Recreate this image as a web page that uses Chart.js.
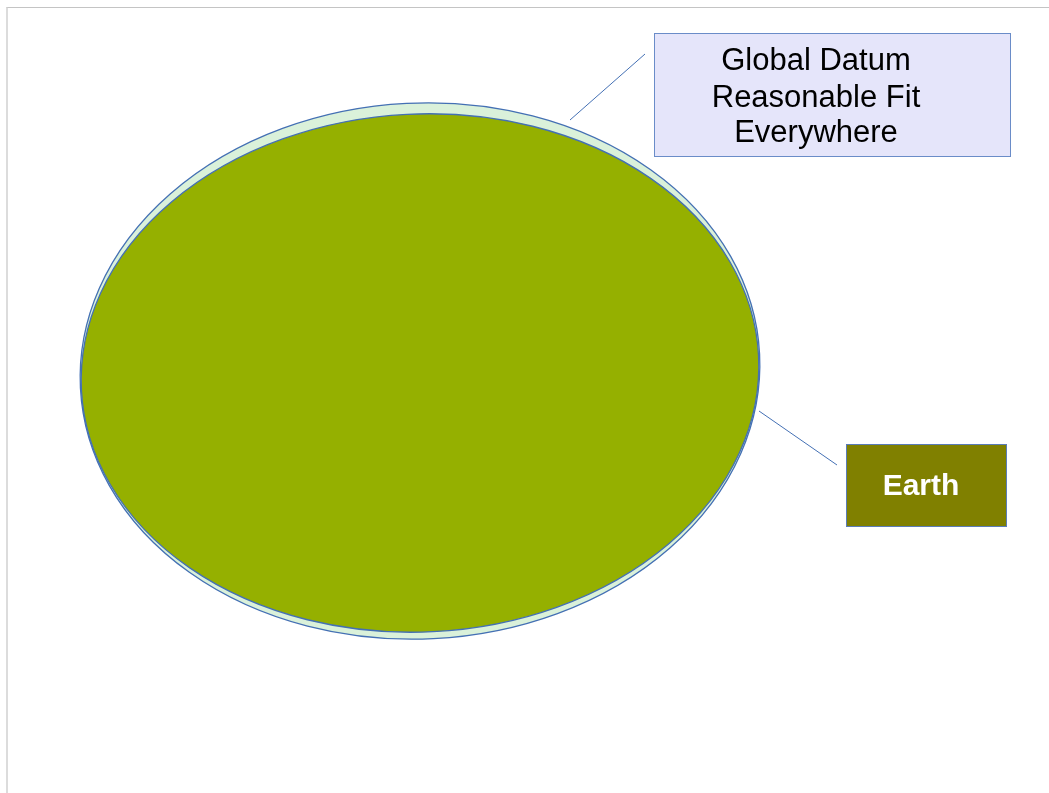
<!DOCTYPE html>
<html>
<head>
<meta charset="utf-8">
<title>Global Datum</title>
<script src="https://cdn.jsdelivr.net/npm/chart.js@4.4.1/dist/chart.umd.min.js"></script>
<style>
  html, body { margin: 0; padding: 0; background: #fff; }
  #wrap { position: relative; width: 1049px; height: 793px; overflow: hidden; }
  #page { position: absolute; left: 6px; top: 7px; right: -10px; bottom: -10px;
          border-top: 1px solid #c4c4c4; border-left: 2px solid #dcdcdc; pointer-events: none; }
  canvas { position: absolute; left: 0; top: 0; }
</style>
</head>
<body>
<div id="wrap">
  <canvas id="diagram" width="1049" height="793"></canvas>
  <div id="page"></div>
</div>
<script>
// ellipses: datum (outer) and earth (inner), centre + radii in axis units
const ellipseNames = ['Global Datum', 'Earth'];
const ellipseCx = [420, 420];
const ellipseCy = [371, 373];
const ellipseRx = [340, 339];
const ellipseRy = [268, 259];
const ellipseTilt = [-0.05, -0.05]; // radians, right end slightly raised
const ellipseFill = ['#daf1da', '#95b000'];

// callout boxes
const boxLabels = [['Global Datum', 'Reasonable Fit', 'Everywhere'], ['Earth']];
const boxX = [654, 846];
const boxY = [33, 444];
const boxW = [356, 160];
const boxH = [123, 82];

// leader lines from the ellipses to the boxes
const leader1 = [{x: 570, y: 120}, {x: 645, y: 54}];
const leader2 = [{x: 759, y: 411}, {x: 837, y: 465}];

const outlineBlue = '#4470b4';

const shapesPlugin = {
    id: 'shapes',
    beforeDatasetsDraw(chart) {
        const ctx = chart.ctx;
        const xs = chart.scales.x;
        const ys = chart.scales.y;
        ctx.save();
        for (let i = 0; i < ellipseNames.length; i++) {
            const cx = xs.getPixelForValue(ellipseCx[i]);
            const cy = ys.getPixelForValue(ellipseCy[i]);
            const rx = Math.abs(xs.getPixelForValue(ellipseCx[i] + ellipseRx[i]) - cx);
            const ry = Math.abs(ys.getPixelForValue(ellipseCy[i] + ellipseRy[i]) - cy);
            ctx.beginPath();
            ctx.ellipse(cx, cy, rx, ry, ellipseTilt[i], 0, Math.PI * 2);
            ctx.fillStyle = ellipseFill[i];
            ctx.fill();
            ctx.lineWidth = 1.3;
            ctx.strokeStyle = outlineBlue;
            ctx.stroke();
        }
        ctx.restore();
    },
    afterDatasetsDraw(chart) {
        const ctx = chart.ctx;
        const xs = chart.scales.x;
        const ys = chart.scales.y;
        ctx.save();

        // Global Datum box
        let left = xs.getPixelForValue(boxX[0]);
        let top = ys.getPixelForValue(boxY[0]);
        let w = xs.getPixelForValue(boxX[0] + boxW[0]) - left;
        let h = ys.getPixelForValue(boxY[0] + boxH[0]) - top;
        ctx.fillStyle = '#e5e5fa';
        ctx.fillRect(left, top, w, h);
        ctx.strokeStyle = '#6a8cc8';
        ctx.lineWidth = 1;
        ctx.strokeRect(left + 0.5, top + 0.5, w, h);
        ctx.fillStyle = '#000';
        ctx.font = '31px "Liberation Sans", Arial, sans-serif';
        ctx.textAlign = 'center';
        ctx.textBaseline = 'middle';
        const lineYs = [61, 98, 133];
        boxLabels[0].forEach((t, k) => {
            ctx.fillText(t, xs.getPixelForValue(816), ys.getPixelForValue(lineYs[k]));
        });

        // Earth box
        left = xs.getPixelForValue(boxX[1]);
        top = ys.getPixelForValue(boxY[1]);
        w = xs.getPixelForValue(boxX[1] + boxW[1]) - left;
        h = ys.getPixelForValue(boxY[1] + boxH[1]) - top;
        ctx.fillStyle = '#808000';
        ctx.fillRect(left, top, w, h);
        ctx.strokeStyle = '#5a7cb8';
        ctx.strokeRect(left + 0.5, top + 0.5, w, h);
        ctx.fillStyle = '#fff';
        ctx.font = 'bold 30px "Liberation Sans", Arial, sans-serif';
        ctx.fillText(boxLabels[1][0], xs.getPixelForValue(921), ys.getPixelForValue(487));

        ctx.restore();
    }
};

const ctx = document.getElementById('diagram').getContext('2d');
new Chart(ctx, {
    type: 'line',
    data: {
        datasets: [
            { label: 'to datum', data: leader1, borderColor: outlineBlue, borderWidth: 1, pointRadius: 0, tension: 0 },
            { label: 'to earth', data: leader2, borderColor: outlineBlue, borderWidth: 1, pointRadius: 0, tension: 0 }
        ]
    },
    options: {
        responsive: false,
        animation: false,
        layout: { padding: 0 },
        scales: {
            x: { type: 'linear', min: 0, max: 1049, display: false },
            y: { type: 'linear', min: 0, max: 793, reverse: true, display: false }
        },
        plugins: {
            legend: { display: false },
            tooltip: { enabled: false }
        }
    },
    plugins: [shapesPlugin]
});
</script>
</body>
</html>
